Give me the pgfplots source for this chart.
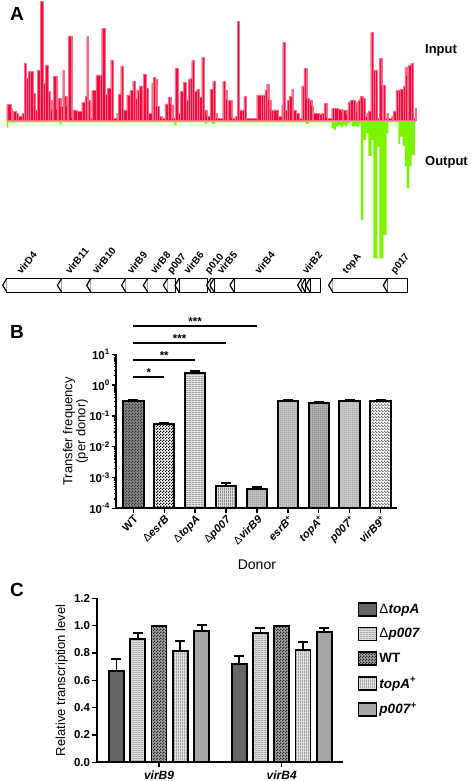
\documentclass[border=0pt]{standalone}
\usepackage{fontspec}
\setmainfont{Liberation Sans}
\setsansfont{Liberation Sans}
\usepackage{pgfplots}
\pgfplotsset{compat=1.18}
\usetikzlibrary{patterns}
\definecolor{inred}{RGB}{245,10,60}
\definecolor{outgreen}{RGB}{125,245,0}
\newcommand{\fs}[1]{\fontsize{#1}{#1}\selectfont}
\pgfdeclarepatternformonly{finecheck}{\pgfpointorigin}{\pgfqpoint{2.6pt}{2.6pt}}{\pgfqpoint{2.6pt}{2.6pt}}%
  {\pgfpathrectangle{\pgfpointorigin}{\pgfqpoint{1.3pt}{1.3pt}}\pgfpathrectangle{\pgfqpoint{1.3pt}{1.3pt}}{\pgfqpoint{1.3pt}{1.3pt}}\pgfusepath{fill}}
\pgfdeclarepatternformonly{finehlines}{\pgfpointorigin}{\pgfqpoint{3pt}{2pt}}{\pgfqpoint{3pt}{2pt}}%
  {\pgfsetlinewidth{0.7pt}\pgfpathmoveto{\pgfqpoint{0pt}{1pt}}\pgfpathlineto{\pgfqpoint{3pt}{1pt}}\pgfusepath{stroke}}
\pgfdeclarepatternformonly{finevlines}{\pgfpointorigin}{\pgfqpoint{2pt}{3pt}}{\pgfqpoint{2pt}{3pt}}%
  {\pgfsetlinewidth{0.7pt}\pgfpathmoveto{\pgfqpoint{1pt}{0pt}}\pgfpathlineto{\pgfqpoint{1pt}{3pt}}\pgfusepath{stroke}}
\pgfdeclarepatternformonly{finegrid}{\pgfpointorigin}{\pgfqpoint{2.2pt}{2.2pt}}{\pgfqpoint{2.2pt}{2.2pt}}%
  {\pgfsetlinewidth{0.6pt}\pgfpathmoveto{\pgfqpoint{1.1pt}{0pt}}\pgfpathlineto{\pgfqpoint{1.1pt}{2.2pt}}\pgfpathmoveto{\pgfqpoint{0pt}{1.1pt}}\pgfpathlineto{\pgfqpoint{2.2pt}{1.1pt}}\pgfusepath{stroke}}
\pgfdeclarepatternformonly{finedots}{\pgfpointorigin}{\pgfqpoint{2pt}{2pt}}{\pgfqpoint{2pt}{2pt}}%
  {\pgfpathrectangle{\pgfpointorigin}{\pgfqpoint{0.9pt}{0.9pt}}\pgfpathrectangle{\pgfqpoint{1pt}{1pt}}{\pgfqpoint{0.9pt}{0.9pt}}\pgfusepath{fill}}
\pgfdeclarepatternformonly{finenwlines}{\pgfpointorigin}{\pgfqpoint{3pt}{3pt}}{\pgfqpoint{3pt}{3pt}}%
  {\pgfsetlinewidth{0.8pt}\pgfpathmoveto{\pgfqpoint{-0.5pt}{3.5pt}}\pgfpathlineto{\pgfqpoint{3.5pt}{-0.5pt}}\pgfusepath{stroke}}
\newcommand{\gene}[3]{%
  \draw[line width=1.2pt] (axis cs:#2,-475) rectangle (axis cs:#3,-517);
  \draw[line width=1.2pt,fill=white] (axis cs:#2,-476) -- (axis cs:#1,-496) -- (axis cs:#2,-516);}
\newcommand{\glab}[2]{\node[rotate=50, anchor=base west, font=\bfseries\fs{10}, inner sep=0pt] at (axis cs:#1,-464) {#2};}
\pgfplotsset{
  errB/.style={error bars/.cd, y dir=plus, y explicit,
    error bar style={line width=2pt, black, solid},
    error mark options={rotate=90, mark size=5pt, line width=2pt, black, solid}},
  errC/.style={error bars/.cd, y dir=plus, y explicit,
    error bar style={line width=1.8pt, black, solid},
    error mark options={rotate=90, mark size=5pt, line width=1.8pt, black, solid}},
  barB/.style={ybar, bar width=20.5pt, bar shift=0pt, draw=black, line width=2pt},
  legC/.style={legend image code/.code={\draw[##1] (0pt,-6.5pt) rectangle (18pt,6.5pt);}},
}
\begin{document}
\begin{tikzpicture}
\useasboundingbox (0,0) rectangle (472pt,781pt);
\node[font=\bfseries\fs{19}] at (17pt,767pt) {A};
\node[font=\bfseries\fs{19}] at (17pt,449pt) {B};
\node[font=\bfseries\fs{19}] at (17pt,191pt) {C};
% ---------------- Panel A
\begin{axis}[at={(6.67pt,522.7pt)}, anchor=south west, scale only axis,
  width=409.3pt, height=256.7pt, xmin=20, xmax=1248, ymin=-415, ymax=355,
  hide axis, clip=false]
\addplot[ybar interval, fill=outgreen, draw=none] coordinates {
(20,-22)(25,-7)(178,-13)(185,-7)(522,-15)(530,-7)(615,-11)(622,-7)(636,-12)(644,-7)
(918,-12)(926,-7)(995,-25)(1002,-30)(1008,-20)(1015,-15)(1022,-22)(1030,-15)(1036,-20)
(1042,-10)(1050,-7)(1055,-20)(1062,-18)(1070,-20)(1078,-10)(1083,-300)(1090,-60)(1098,-40)
(1105,-108)(1115,-60)(1120,-415)(1132,-80)(1138,-415)(1150,-345)(1160,-40)(1165,-7)
(1195,-72)(1200,-50)(1208,-78)(1215,-140)(1220,-205)(1228,-140)(1235,-105)(1245,-7)(1248,0)};
\addplot[ybar interval, fill=inred, draw=white!40!inred, line width=0.25pt] coordinates {
(20,46)(33,35)(37,5)(40,25)(48,20)(55,12)(67,20)(72,170)(78,125)(85,145)(90,145)(100,80)
(105,30)(112,150)(120,355)(130,110)(136,165)(145,85)(150,60)(155,30)(160,130)(170,30)
(175,65)(182,40)(188,150)(192,70)(200,40)(205,252)(215,5)(220,30)(230,25)(245,52)(255,70)
(260,250)(265,60)(270,5)(275,88)(288,135)(300,135)(305,275)(315,78)(322,95)(332,180)
(340,5)(350,20)(355,78)(362,162)(370,30)(380,75)(390,88)(398,115)(405,65)(410,90)
(418,102)(425,102)(430,138)(438,95)(445,20)(455,110)(460,128)(465,122)(470,40)(478,10)
(485,5)(495,48)(505,68)(512,45)(518,5)(525,155)(535,20)(540,85)(550,112)(558,60)
(565,122)(570,125)(575,178)(582,85)(590,92)(598,68)(605,188)(612,30)(620,10)(630,92)
(638,115)(645,20)(650,5)(668,115)(675,90)(680,60)(685,58)(695,5)(705,10)(712,295)
(718,30)(725,30)(732,70)(738,5)(770,75)(782,75)(790,75)(795,90)(800,108)(806,60)
(812,30)(820,30)(835,10)(845,45)(848,232)(855,30)(862,60)(868,70)(875,92)(880,30)
(888,20)(898,5)(905,102)(912,155)(920,65)(928,60)(935,42)(940,20)(958,18)(965,20)
(972,50)(980,5)(995,35)(1002,35)(1015,32)(1025,22)(1030,30)(1040,15)(1045,52)(1050,58)
(1058,60)(1065,52)(1070,25)(1075,60)(1080,70)(1088,65)(1095,12)(1100,20)(1105,27)
(1112,263)(1120,150)(1125,150)(1132,5)(1138,185)(1145,102)(1150,105)(1155,5)(1160,20)
(1165,5)(1175,12)(1180,27)(1188,88)(1195,90)(1200,92)(1210,102)(1215,157)(1220,132)
(1225,165)(1232,170)(1240,5)(1245,35)(1248,0)};
\node[anchor=west, font=\bfseries\fs{13}, inner sep=0pt] at (axis cs:1275,210) {Input};
\node[anchor=west, font=\bfseries\fs{13}, inner sep=0pt] at (axis cs:1275,-127) {Output};
% gene map
\gene{8}{20}{185}
\gene{172}{185}{272}
\gene{260}{272}{377}
\gene{365}{377}{443}
\gene{430}{443}{503}
\gene{490}{503}{527}
\gene{525}{537}{622}
\gene{620}{632}{642}
\gene{630}{642}{702}
\gene{690}{702}{905}
\gene{893}{905}{915}
\gene{905}{915}{930}
\gene{918}{930}{962}
\gene{986}{998}{1162}
\gene{1150}{1162}{1222}
\glab{64}{virD4}
\glab{210}{virB11}
\glab{290}{virB10}
\glab{395}{virB9}
\glab{465}{virB8}
\glab{515}{p007}
\glab{565}{virB6}
\glab{628}{p010}
\glab{665}{virB5}
\glab{778}{virB4}
\glab{920}{virB2}
\glab{1040}{topA}
\glab{1185}{p017}
\end{axis}
% ---------------- Panel B
\begin{axis}[at={(116pt,272.7pt)}, anchor=south west, scale only axis,
  width=280.7pt, height=154pt,
  ymode=log, log origin=infty, ymin=1e-4, ymax=10, xmin=-0.56, xmax=8.52,
  axis x line*=bottom, axis y line*=left, axis line style={line width=2pt},
  tick align=outside, major tick length=4.5pt, minor tick length=2.5pt,
  tick style={line width=1.3pt, black},
  xtick={0,...,8},
  xticklabels={WT,{{\mdseries Δ}\textit{esrB}},{{\mdseries Δ}\textit{topA}},{{\mdseries Δ}\textit{p007}},{{\mdseries Δ}\textit{virB9}},{\textit{esrB}\textsuperscript{+}},{\textit{topA}\textsuperscript{+}},{\textit{p007}\textsuperscript{+}},{\textit{virB9}\textsuperscript{+}}},
  xticklabel style={rotate=45, anchor=north east, font=\bfseries\fs{11}, inner sep=1.2pt},
  ytick={1e-4,1e-3,1e-2,1e-1,1,10},
  minor ytick={2e-4,3e-4,4e-4,5e-4,6e-4,7e-4,8e-4,9e-4,2e-3,3e-3,4e-3,5e-3,6e-3,7e-3,8e-3,9e-3,2e-2,3e-2,4e-2,5e-2,6e-2,7e-2,8e-2,9e-2,0.2,0.3,0.4,0.5,0.6,0.7,0.8,0.9,2,3,4,5,6,7,8,9},
  yticklabels={10\textsuperscript{-4},10\textsuperscript{-3},10\textsuperscript{-2},10\textsuperscript{-1},10\textsuperscript{0},10\textsuperscript{1}},
  yticklabel style={font=\bfseries\fs{11.5}, inner sep=1.5pt},
  ylabel={Transfer frequency\\(per donor)},
  ylabel style={at={(axis description cs:-0.144,0.5)}, anchor=center, align=center, font=\fs{13}},
  xlabel={Donor},
  xlabel style={at={(axis description cs:0.502,-0.368)}, anchor=center, font=\fs{14}},
  clip=false]
\addplot[fill=black!45, postaction={pattern=finecheck, pattern color=black!80}, barB, errB] coordinates {(0,0.30) +- (0,0.035)};
\addplot[fill=white, postaction={pattern=finecheck, pattern color=black}, barB, errB] coordinates {(1,0.054) +- (0,0.004)};
\addplot[fill=black!12, postaction={pattern=finehlines, pattern color=black!50}, barB, errB] coordinates {(2,2.5) +- (0,0.45)};
\addplot[fill=black!12, postaction={pattern=finevlines, pattern color=black!65}, barB, errB] coordinates {(3,5.4e-4) +- (0,1.3e-4)};
\addplot[fill=black!22, postaction={pattern=finedots, pattern color=black!45}, barB, errB] coordinates {(4,4.2e-4) +- (0,0.8e-4)};
\addplot[fill=black!22, postaction={pattern=finedots, pattern color=black!40}, barB, errB] coordinates {(5,0.30) +- (0,0.025)};
\addplot[fill=black!20, postaction={pattern=finegrid, pattern color=black!60}, barB, errB] coordinates {(6,0.26) +- (0,0.025)};
\addplot[fill=black!20, postaction={pattern=finedots, pattern color=black!38}, barB, errB] coordinates {(7,0.31) +- (0,0.015)};
\addplot[fill=white, postaction={pattern=finenwlines, pattern color=black!75}, barB, errB] coordinates {(8,0.30) +- (0,0.02)};
\addplot[black, line width=1.7pt, mark=none] coordinates {(0,1.79) (1,1.79)};
\addplot[black, line width=1.7pt, mark=none] coordinates {(0,6.5) (2,6.5)};
\addplot[black, line width=1.7pt, mark=none] coordinates {(0,22.8) (3,22.8)};
\addplot[black, line width=1.7pt, mark=none] coordinates {(0,85) (4,85)};
\node[anchor=base, font=\bfseries\fs{11.5}, inner sep=0pt] at (axis cs:0.5,1.85) {*};
\node[anchor=base, font=\bfseries\fs{11.5}, inner sep=0pt] at (axis cs:1,6.7) {**};
\node[anchor=base, font=\bfseries\fs{11.5}, inner sep=0pt] at (axis cs:1.5,23.5) {***};
\node[anchor=base, font=\bfseries\fs{11.5}, inner sep=0pt] at (axis cs:2,88) {***};
\end{axis}
% ---------------- Panel C
\begin{axis}[at={(96.7pt,18.7pt)}, anchor=south west, scale only axis,
  width=246.6pt, height=164pt,
  ymin=0, ymax=1.2, xmin=-0.508, xmax=1.502,
  ybar=6.3pt, bar width=15pt,
  axis x line*=bottom, axis y line*=left, axis line style={line width=2pt},
  tick align=outside, major tick length=5pt, tick style={line width=1.3pt, black},
  xtick={0,1}, xticklabels={\textit{virB9},\textit{virB4}},
  xticklabel style={font=\bfseries\fs{12}},
  ytick={0,0.2,0.4,0.6,0.8,1.0,1.2},
  yticklabels={0.0,0.2,0.4,0.6,0.8,1.0,1.2},
  yticklabel style={font=\bfseries\fs{11.5}, inner sep=1.5pt},
  ylabel={Relative transcription level},
  ylabel style={at={(axis description cs:-0.142,0.5)}, anchor=center, font=\fs{13}},
  legend style={at={(axis description cs:1.045,0.99)}, anchor=north west, draw=none, fill=none,
    font=\bfseries\fs{13.5}, row sep=9.5pt, legend cell align=left,
    /tikz/every even column/.append style={column sep=5pt}},
  clip=false]
\addplot[draw=black, line width=1.9pt, fill=black!60, legC, errC] coordinates {(0,0.671) +- (0,0.085) (1,0.717) +- (0,0.061)};
\addlegendentry{{\mdseries Δ}\textit{topA}}
\addplot[draw=black, line width=1.9pt, fill=black!12, postaction={pattern=finehlines, pattern color=black!45}, legC, errC] coordinates {(0,0.90) +- (0,0.044) (1,0.949) +- (0,0.031)};
\addlegendentry{{\mdseries Δ}\textit{p007}}
\addplot[draw=black, line width=1.9pt, fill=black!35, postaction={pattern=finecheck, pattern color=black!85}, legC] coordinates {(0,1.0) (1,1.0)};
\addlegendentry{WT}
\addplot[draw=black, line width=1.9pt, fill=black!12, postaction={pattern=finevlines, pattern color=black!50}, legC, errC] coordinates {(0,0.817) +- (0,0.071) (1,0.822) +- (0,0.056)};
\addlegendentry{\textit{topA}\textsuperscript{+}}
\addplot[draw=black, line width=1.9pt, fill=black!35, legC, errC] coordinates {(0,0.961) +- (0,0.044) (1,0.954) +- (0,0.031)};
\addlegendentry{\textit{p007}\textsuperscript{+}}
\end{axis}
\end{tikzpicture}
\end{document}
